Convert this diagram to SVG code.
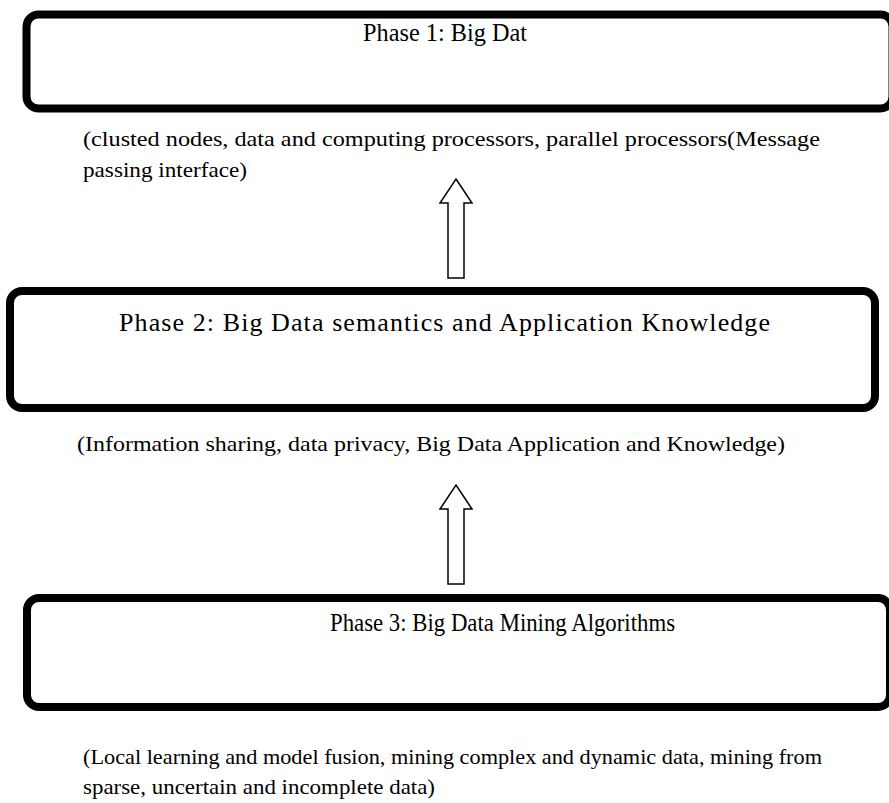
<svg xmlns="http://www.w3.org/2000/svg" width="889" height="803" viewBox="0 0 889 803">
<style>
.box{fill:#fff;stroke:#000;stroke-width:8}
.arr{fill:#fff;stroke:#000;stroke-width:1.5;stroke-linejoin:miter}
.t{font-family:"Liberation Serif","Times New Roman",serif;fill:#000}
.h{font-size:25px}
.n{font-size:21px}
</style>
<rect width="889" height="803" fill="#fff"/>
<g id="phase1">
<rect class="box" x="26.5" y="14.5" width="866" height="94" rx="12"/>
<text class="t h" x="363" y="41" textLength="164" lengthAdjust="spacingAndGlyphs">Phase 1: Big Dat</text>
</g>
<g id="note1">
<text class="t n" x="83" y="146" textLength="737" lengthAdjust="spacingAndGlyphs">(clusted nodes, data and computing processors, parallel processors(Message</text>
<text class="t n" x="83" y="177" textLength="164" lengthAdjust="spacingAndGlyphs">passing interface)</text>
</g>
<g id="phase2">
<rect class="box" x="10" y="291" width="865" height="117" rx="12"/>
<text class="t" style="font-size:26px" x="119" y="331" textLength="651" lengthAdjust="spacing">Phase 2: Big Data semantics and Application Knowledge</text>
</g>
<g id="note2">
<text class="t n" x="77" y="451" textLength="708" lengthAdjust="spacingAndGlyphs">(Information sharing, data privacy, Big Data Application and Knowledge)</text>
</g>
<g id="phase3">
<rect class="box" x="27" y="598" width="863" height="109" rx="12"/>
<text class="t h" x="330" y="631" textLength="345" lengthAdjust="spacingAndGlyphs">Phase 3: Big Data Mining Algorithms</text>
</g>
<g id="note3">
<text class="t n" x="83" y="764" textLength="739" lengthAdjust="spacingAndGlyphs">(Local learning and model fusion, mining complex and dynamic data, mining from</text>
<text class="t n" x="83" y="794" textLength="352" lengthAdjust="spacingAndGlyphs">sparse, uncertain and incomplete data)</text>
</g>
<g id="connectors">
<polygon class="arr" points="456,179 472,203 464,203 464,278 448,278 448,203 440,203"/>
<polygon class="arr" points="456,485 472,509 464,509 464,584 448,584 448,509 440,509"/>
</g>
</svg>
